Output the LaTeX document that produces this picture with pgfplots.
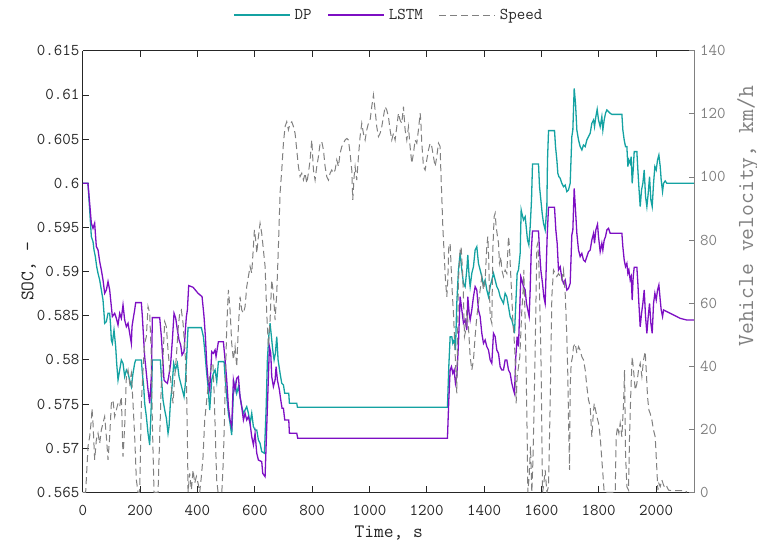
\documentclass[border=0pt]{standalone}
\usepackage{fontspec}
\usepackage{pgfplots}
\pgfplotsset{compat=1.18}

\definecolor{dpcol}{RGB}{20,162,162}
\definecolor{lstmcol}{RGB}{125,15,195}
\definecolor{spdcol}{RGB}{128,128,128}
\definecolor{axcol}{RGB}{38,38,38}

\newcommand{\tickfont}{\ttfamily\fontsize{16.5}{19}\selectfont}
\newcommand{\labfont}{\ttfamily\fontsize{19}{22}\selectfont}
\newcommand{\rlabfont}{\ttfamily\fontsize{23}{26}\selectfont}

\pgfplotsset{
  base/.style={
    scale only axis, width=611.9pt, height=441.5pt,
    xmin=0, xmax=2135,
    tick align=inside, major tick length=6pt,
    every tick/.style={line width=0.8pt},
    axis line style={line width=0.8pt},
    tick label style={font=\tickfont},
    label style={font=\labfont},
  },
}

\begin{document}
\begin{tikzpicture}
\useasboundingbox (-82.8pt,-53.7pt) rectangle (674.2pt,492.3pt);

% State of charge (left axis)
\begin{axis}[base,
  ymin=0.565, ymax=0.615,
  axis x line*=box, axis y line*=left,
  x axis line style={draw=axcol}, y axis line style={draw=axcol},
  xtick style={draw=axcol}, ytick style={draw=axcol},
  tick label style={text=axcol},
  xtick={0,200,400,600,800,1000,1200,1400,1600,1800,2000},
  xticklabels={0,200,400,600,800,1000,1200,1400,1600,1800,2000},
  xticklabel style={anchor=center, yshift=-17.7pt},
  ytick={0.565,0.570,0.575,0.580,0.585,0.590,0.595,0.600,0.605,0.610,0.615},
  yticklabels={0.565,0.57,0.575,0.58,0.585,0.59,0.595,0.6,0.605,0.61,0.615},
  xlabel={Time, s},
  xlabel style={at={(axis description cs:0.5,-0.0922)}, anchor=center, text=axcol},
  ylabel={SOC, -},
  ylabel style={at={(axis description cs:-0.0883,0.5)}, anchor=center, text=axcol},
  legend columns=3,
  legend style={at={(axis description cs:0.5,1.081)}, anchor=center,
    draw=none, fill=none, font=\tickfont, text=axcol,
    /tikz/every odd column/.append style={column sep=2pt},
    /tikz/every even column/.append style={column sep=14pt}},
  legend image code/.code={\draw[#1] (0pt,0pt) -- (56pt,0pt);},
]
\addplot[dpcol, line width=1.3pt] coordinates {
(0,0.6000)(18,0.6000)(24.0,0.59698)(29.8,0.59396)(35.6,0.59339)(39.1,0.59245)(43.8,0.59169)(48.4,0.59056)(53.1,0.58980)(58.9,0.58905)(64.7,0.58792)(70.5,0.58678)(74.0,0.58527)(76.3,0.58414)(82.2,0.58433)(88.0,0.58527)(93.8,0.58527)(97.3,0.58376)(99.6,0.58225)(103.1,0.58187)(108.9,0.58338)(114.7,0.58150)(118.2,0.57961)(122.9,0.57772)(128.7,0.57885)(134.5,0.57999)(140.3,0.57961)(146.1,0.57810)(152.0,0.57885)(157.8,0.57848)(163.6,0.57772)(169.4,0.57697)(175.2,0.57848)(181.0,0.57961)(184.5,0.57999)(204.3,0.57999)(207.8,0.57848)(212.5,0.57697)(215.9,0.57508)(221.8,0.57357)(227.6,0.57168)(233.4,0.57036)(239.2,0.57508)(242.7,0.57999)(270.6,0.57999)(274.1,0.57810)(279.9,0.57545)(285.8,0.57432)(291.6,0.57338)(297.4,0.57168)(300.9,0.57243)(305.5,0.57508)(311.4,0.57697)(317.2,0.57961)(323.0,0.57885)(330.0,0.57961)(335.8,0.57810)(341.6,0.57734)(347.4,0.57659)(353.2,0.57583)(357.9,0.57734)(361.4,0.57961)(367.2,0.58365)(413.7,0.58365)(420.7,0.58263)(425.4,0.58112)(431.2,0.57885)(437.0,0.57697)(442.8,0.57432)(449.8,0.57772)(455.6,0.57848)(461.5,0.57885)(467.3,0.57753)(473.1,0.57980)(492.9,0.57980)(496.4,0.57810)(502.2,0.57583)(508.0,0.57395)(513.8,0.57281)(519.6,0.57149)(525.4,0.57621)(531.3,0.57734)(537.1,0.57621)(542.9,0.57697)(548.7,0.57583)(554.5,0.57470)(560.4,0.57395)(566.2,0.57432)(572.0,0.57470)(577.8,0.57395)(583.6,0.57281)(589.4,0.57395)(595.3,0.57244)(601.1,0.57206)(606.9,0.57206)(612.7,0.57093)(618.5,0.57055)(624.3,0.56961)(633.7,0.56942)(639.5,0.57432)(644.1,0.57999)(648.8,0.58263)(653.4,0.58414)(658.1,0.58263)(662.7,0.58112)(667.4,0.57999)(672.0,0.58074)(676.7,0.58263)(681.4,0.57999)(688.3,0.57848)(694.2,0.57734)(700.0,0.57716)(704.6,0.57621)(718.6,0.57621)(720.9,0.57508)(746.5,0.57508)(748.8,0.57463)(1272.3,0.57463)(1277.0,0.57922)(1281.7,0.58262)(1287.5,0.58262)(1291.0,0.58187)(1295.6,0.58224)(1300.3,0.58111)(1304.9,0.58640)(1310.7,0.59018)(1316.6,0.59207)(1322.4,0.59018)(1328.2,0.58867)(1334.0,0.58829)(1339.8,0.59018)(1343.3,0.59188)(1348.0,0.58942)(1351.5,0.58829)(1357.3,0.58980)(1363.1,0.59056)(1368.9,0.59244)(1374.7,0.59282)(1380.5,0.59093)(1386.4,0.59018)(1392.2,0.58942)(1398.0,0.58848)(1403.8,0.58905)(1409.6,0.58791)(1415.5,0.58716)(1421.3,0.58829)(1427.1,0.58905)(1432.9,0.58980)(1438.7,0.58905)(1444.5,0.58829)(1450.4,0.58791)(1456.2,0.58716)(1462.0,0.58678)(1467.8,0.58640)(1473.6,0.58754)(1479.4,0.58716)(1485.3,0.58603)(1491.1,0.58489)(1496.9,0.58452)(1502.7,0.58376)(1506.2,0.58301)(1510.9,0.58640)(1515.5,0.58980)(1520.2,0.59018)(1526.0,0.59207)(1529.5,0.59697)(1531.9,0.59660)(1537.7,0.59584)(1543.5,0.59622)(1547.0,0.59509)(1551.6,0.59358)(1556.3,0.59301)(1561.0,0.59509)(1565.6,0.59811)(1569.1,0.60218)(1590.0,0.60218)(1593.5,0.59962)(1598.2,0.59811)(1602.8,0.59660)(1607.5,0.59546)(1613.3,0.59471)(1619.1,0.59735)(1621.4,0.60264)(1625.0,0.60596)(1645.9,0.60596)(1649.4,0.60415)(1654.0,0.60264)(1657.5,0.60113)(1661.0,0.60075)(1665.6,0.60056)(1671.4,0.59999)(1677.2,0.59961)(1683.1,0.59980)(1688.9,0.59905)(1694.7,0.59924)(1700.5,0.59999)(1706.3,0.60528)(1709.8,0.60603)(1714.5,0.61075)(1719.1,0.60905)(1723.8,0.60603)(1729.6,0.60490)(1735.4,0.60415)(1741.2,0.60377)(1747.0,0.60433)(1752.9,0.60415)(1758.7,0.60490)(1764.5,0.60528)(1770.3,0.60566)(1776.1,0.60679)(1782.0,0.60717)(1785.4,0.60641)(1790.1,0.60754)(1794.7,0.60837)(1799.4,0.60717)(1805.2,0.60641)(1811.0,0.60754)(1814.5,0.60603)(1819.2,0.60717)(1823.8,0.60792)(1828.5,0.60830)(1834.3,0.60811)(1840.1,0.60792)(1846.0,0.60780)(1880.9,0.60780)(1884.3,0.60603)(1889.0,0.60490)(1893.6,0.60415)(1898.3,0.60415)(1901.8,0.60188)(1905.3,0.60264)(1909.9,0.60226)(1913.4,0.60301)(1916.9,0.59999)(1920.4,0.60150)(1923.9,0.60358)(1933.2,0.60358)(1936.7,0.60150)(1940.2,0.59961)(1944.8,0.59735)(1949.5,0.59924)(1954.1,0.59999)(1958.8,0.60150)(1963.5,0.59848)(1968.1,0.59735)(1972.8,0.59886)(1977.4,0.60074)(1982.1,0.59811)(1986.7,0.59735)(1991.4,0.59999)(1996.0,0.60188)(2000.7,0.60150)(2005.3,0.60264)(2010.0,0.60320)(2014.7,0.60188)(2018.1,0.60037)(2022.8,0.59905)(2026.3,0.59999)(2032.1,0.60026)(2037.9,0.59999)(2135,0.59999)
};
\addlegendentry{DP}
\addplot[lstmcol, line width=1.3pt] coordinates {
(0,0.6000)(18,0.6000)(24.0,0.59773)(29.8,0.59547)(35.6,0.59490)(41.4,0.59547)(47.2,0.59283)(53.1,0.59245)(58.9,0.59113)(64.7,0.59018)(70.5,0.58905)(76.3,0.58754)(82.2,0.58792)(88.0,0.58886)(93.8,0.58792)(99.6,0.58603)(103.1,0.58490)(111.2,0.58527)(117.0,0.58471)(122.9,0.58395)(128.7,0.58527)(134.5,0.58471)(140.3,0.58622)(146.1,0.58452)(152.0,0.58376)(157.8,0.58414)(163.6,0.58301)(169.4,0.58187)(171.7,0.58376)(175.2,0.58452)(181.0,0.58565)(184.5,0.58648)(204.3,0.58648)(207.8,0.58490)(212.5,0.58225)(215.9,0.58036)(221.8,0.57848)(227.6,0.57659)(233.4,0.57508)(239.2,0.57810)(242.7,0.58478)(268.3,0.58478)(274.1,0.58263)(279.9,0.57961)(283.4,0.57772)(288.1,0.57753)(295.1,0.57734)(299.7,0.57810)(306.7,0.57961)(312.5,0.58225)(318.3,0.58527)(324.2,0.58471)(330.0,0.58339)(335.8,0.58225)(341.6,0.58168)(346.3,0.58055)(353.2,0.58093)(357.9,0.58339)(361.4,0.58490)(364.9,0.58565)(369.5,0.58841)(384.7,0.58822)(402.1,0.58754)(416.1,0.58716)(423.0,0.58490)(427.7,0.58263)(432.4,0.57961)(437.0,0.57772)(442.8,0.57659)(448.6,0.57999)(449.8,0.58093)(455.6,0.58074)(461.5,0.58112)(464.9,0.58036)(473.1,0.58206)(490.5,0.58206)(496.4,0.57999)(502.2,0.57772)(508.0,0.57470)(513.8,0.57319)(519.6,0.57244)(525.4,0.57772)(531.3,0.57659)(537.1,0.57791)(542.9,0.57810)(548.7,0.57583)(554.5,0.57470)(560.4,0.57319)(566.2,0.57395)(572.0,0.57319)(577.8,0.57357)(583.6,0.57281)(589.4,0.57130)(595.3,0.57036)(601.1,0.57168)(606.9,0.56942)(612.7,0.56866)(624.3,0.56847)(627.8,0.56715)(636.0,0.56677)(641.8,0.57244)(647.6,0.57810)(651.1,0.58150)(655.8,0.58074)(659.2,0.57810)(665.1,0.57697)(670.9,0.57772)(674.4,0.57923)(679.0,0.57772)(686.0,0.57659)(690.7,0.57546)(695.3,0.57451)(700.0,0.57451)(704.6,0.57319)(718.6,0.57319)(720.9,0.57168)(746.5,0.57168)(750.0,0.57112)(1272.3,0.57112)(1277.0,0.57545)(1281.7,0.57885)(1286.3,0.57923)(1291.0,0.57848)(1295.6,0.57885)(1300.3,0.57734)(1304.9,0.57810)(1310.7,0.58187)(1316.6,0.58716)(1322.4,0.58565)(1328.2,0.58414)(1334.0,0.58452)(1339.8,0.58338)(1343.3,0.58716)(1348.0,0.58527)(1351.5,0.58452)(1357.3,0.58565)(1363.1,0.58716)(1368.9,0.58829)(1374.7,0.58791)(1380.5,0.58565)(1386.4,0.58489)(1392.2,0.58301)(1398.0,0.58187)(1403.8,0.58225)(1409.6,0.58150)(1415.5,0.58112)(1421.3,0.57999)(1427.1,0.57961)(1432.9,0.58301)(1438.7,0.58263)(1444.5,0.58112)(1450.4,0.58074)(1456.2,0.57923)(1462.0,0.57885)(1467.8,0.57885)(1473.6,0.57999)(1479.4,0.57999)(1485.3,0.57885)(1491.1,0.57848)(1496.9,0.57734)(1502.7,0.57659)(1506.2,0.57621)(1510.9,0.58036)(1515.5,0.58263)(1520.2,0.58150)(1523.6,0.58489)(1528.3,0.58942)(1531.8,0.58905)(1537.6,0.58829)(1543.4,0.58791)(1548.1,0.58640)(1552.7,0.58565)(1557.4,0.58489)(1560.9,0.58791)(1564.4,0.59207)(1569.0,0.59460)(1590.0,0.59460)(1593.5,0.59244)(1598.1,0.59018)(1603.9,0.58867)(1608.6,0.58716)(1613.2,0.58640)(1616.7,0.59018)(1620.2,0.59395)(1624.9,0.59728)(1645.8,0.59728)(1650.5,0.59471)(1655.1,0.59320)(1659.8,0.59018)(1665.6,0.59055)(1671.4,0.58923)(1677.2,0.58866)(1683.1,0.58904)(1688.9,0.58791)(1694.7,0.58810)(1700.5,0.58866)(1706.3,0.59414)(1709.8,0.59470)(1714.5,0.59942)(1719.1,0.59697)(1723.8,0.59433)(1729.6,0.59244)(1735.4,0.59169)(1741.2,0.59206)(1747.0,0.59131)(1752.9,0.59112)(1758.7,0.59169)(1764.5,0.59225)(1770.3,0.59244)(1776.1,0.59357)(1782.0,0.59433)(1785.4,0.59320)(1790.1,0.59471)(1795.9,0.59535)(1799.4,0.59395)(1805.2,0.59225)(1811.0,0.59320)(1814.5,0.59244)(1819.2,0.59357)(1823.8,0.59395)(1828.5,0.59471)(1834.3,0.59489)(1840.1,0.59433)(1880.9,0.59433)(1884.3,0.59282)(1889.0,0.59131)(1893.6,0.59055)(1898.3,0.59093)(1901.8,0.58980)(1905.3,0.59018)(1909.9,0.58904)(1913.4,0.58942)(1916.9,0.58678)(1920.4,0.58942)(1923.9,0.59048)(1933.2,0.59048)(1936.7,0.58866)(1940.2,0.58640)(1944.8,0.58375)(1949.5,0.58526)(1954.1,0.58640)(1958.8,0.58791)(1963.5,0.58489)(1968.1,0.58300)(1972.8,0.58489)(1977.4,0.58640)(1982.1,0.58413)(1986.7,0.58300)(1991.4,0.58640)(1996.0,0.58753)(2000.7,0.58678)(2005.3,0.58791)(2010.0,0.58848)(2014.7,0.58678)(2018.1,0.58565)(2022.8,0.58489)(2026.3,0.58565)(2037.9,0.58546)(2061.2,0.58508)(2084.5,0.58470)(2107.7,0.58451)(2135,0.58451)
};
\addlegendentry{LSTM}
\addlegendimage{spdcol, line width=1pt, dash pattern=on 7pt off 4pt}
\addlegendentry{Speed}
\end{axis}

% Vehicle speed (right axis)
\begin{axis}[base,
  ymin=0, ymax=140,
  axis y line*=right, axis x line=none,
  y axis line style={draw=spdcol}, ytick style={draw=spdcol},
  ytick={0,20,40,60,80,100,120,140},
  yticklabels={0,20,40,60,80,100,120,140},
  yticklabel style={text=spdcol, xshift=2pt},
  ylabel={Vehicle velocity, km/h},
  ylabel style={at={(axis description cs:1.0866,0.625)}, anchor=center, text=spdcol, font=\rlabfont},
]
\addplot[spdcol, line width=1pt, dash pattern=on 7pt off 4pt] coordinates {
(0,0)(10,0)(18.2,14.5)(24.0,17.7)(29.8,22.9)(32.1,26.6)(35.6,21.9)(41.4,10.3)(47.2,16.6)(53.1,18.7)(58.9,15.5)(64.7,19.8)(70.5,21.9)(76.3,24.0)(82.2,17.7)(88.0,10.3)(93.8,17.7)(99.6,28.2)(105.4,29.3)(111.2,24.0)(117.0,26.1)(122.9,28.2)(128.7,27.2)(134.5,30.3)(140.3,11.3)(146.1,20.8)(152.0,36.7)(157.8,38.8)(163.6,34.6)(169.4,37.7)(175.2,28.2)(181.0,17.7)(186.9,3.9)(192.7,0)(198.5,0)(204.3,28.2)(210.1,38.8)(215.9,47.2)(221.8,49.4)(227.6,58.9)(233.4,56.8)(239.2,43.0)(242.7,21.9)(248.5,0)(262.5,0)(268.3,17.7)(274.1,34.6)(279.9,43.0)(285.8,54.1)(291.6,52.5)(297.4,45.1)(303.2,38.8)(309.0,33.5)(314.8,28.2)(320.7,36.7)(326.5,43.0)(332.3,51.5)(338.1,56.8)(343.9,57.8)(349.8,53.6)(355.6,46.2)(361.4,36.7)(364.9,17.7)(367.2,0)(373.0,6.0)(378.8,0.7)(384.7,7.1)(390.5,2.9)(396.3,5.0)(402.1,2.9)(407.9,0)(413.7,5.0)(419.6,11.3)(425.4,22.9)(431.2,28.2)(437.0,33.5)(442.8,36.7)(448.6,39.8)(454.0,41.0)(458.0,32.0)(462.0,20.0)(467.0,4.0)(472.0,0)(485.0,0)(490.5,10.3)(496.4,31.4)(502.2,52.5)(508.0,64.2)(513.8,57.8)(519.6,47.2)(525.4,42.0)(531.3,46.2)(537.1,39.8)(542.9,52.5)(548.7,62.0)(554.5,57.8)(560.4,56.8)(566.2,58.9)(572.0,65.2)(577.8,68.4)(583.6,71.6)(589.4,69.5)(595.3,77.9)(598.7,83.2)(604.6,79.0)(606.9,75.8)(612.7,81.1)(618.5,85.3)(624.3,82.1)(630.2,76.8)(636.0,71.6)(641.8,56.8)(647.6,46.2)(653.4,54.6)(659.2,67.3)(665.1,63.1)(670.9,54.6)(676.7,63.1)(682.5,77.9)(688.3,94.8)(694.2,102.2)(700.0,110.7)(705.8,116.0)(711.6,117.5)(717.4,114.9)(723.2,117.0)(729.1,117.5)(734.9,116.0)(740.7,113.8)(746.5,108.6)(752.3,103.3)(758.1,100.1)(764.0,101.2)(769.8,99.0)(775.6,101.2)(781.4,98.0)(787.2,101.2)(793.1,105.4)(798.9,111.7)(804.7,102.2)(810.5,99.0)(816.3,103.3)(822.1,106.4)(828.0,110.7)(833.8,111.2)(839.6,108.6)(845.4,103.3)(851.2,100.1)(857.0,99.0)(862.9,101.2)(868.7,102.2)(874.5,101.2)(880.3,102.2)(886.1,105.4)(892.0,103.3)(897.8,107.5)(903.5,109.6)(909.3,110.6)(915.2,111.7)(921.0,112.2)(926.8,111.7)(932.6,107.5)(938.4,102.2)(941.9,92.7)(946.6,100.1)(950.1,103.3)(955.9,99.0)(961.7,106.4)(967.5,112.8)(973.3,117.0)(979.1,113.8)(985.0,111.7)(990.8,114.9)(996.6,117.0)(1002.4,118.0)(1008.2,122.3)(1014.1,126.0)(1019.9,121.2)(1025.7,115.9)(1031.5,112.8)(1037.3,113.8)(1043.1,115.9)(1049.0,119.1)(1054.8,122.3)(1060.6,121.2)(1066.4,119.1)(1072.2,114.9)(1078.0,111.7)(1083.9,113.8)(1089.7,111.7)(1095.5,115.9)(1101.3,120.2)(1107.1,118.0)(1113.0,117.0)(1118.8,122.3)(1124.6,114.9)(1130.4,111.7)(1136.2,115.9)(1142.0,109.6)(1147.9,104.3)(1153.7,107.5)(1159.5,111.7)(1165.3,110.7)(1171.1,114.9)(1177.0,120.2)(1179.3,118.0)(1182.8,110.7)(1188.6,103.3)(1194.4,102.2)(1200.2,105.4)(1206.0,108.5)(1211.9,110.7)(1217.7,109.6)(1223.5,106.4)(1229.3,103.3)(1235.1,106.4)(1240.9,110.7)(1246.8,109.6)(1249.1,102.2)(1252.6,93.7)(1256.1,84.2)(1260.7,75.8)(1265.4,67.3)(1270.0,62.0)(1273.5,67.3)(1277.0,77.9)(1281.7,78.9)(1285.1,71.6)(1289.8,62.0)(1293.3,56.7)(1299.1,44.0)(1304.9,31.4)(1310.7,67.3)(1316.6,76.8)(1320.0,77.9)(1324.7,70.5)(1328.2,62.0)(1331.7,49.4)(1336.3,51.5)(1339.8,57.8)(1345.6,52.5)(1351.5,43.0)(1357.3,38.8)(1363.1,42.0)(1368.9,49.4)(1374.7,55.7)(1380.5,59.9)(1386.4,64.2)(1392.2,68.4)(1398.0,64.2)(1403.8,67.3)(1409.6,77.9)(1413.1,81.1)(1415.5,75.8)(1421.3,55.7)(1427.1,53.6)(1430.6,76.8)(1435.2,87.4)(1438.7,88.5)(1442.2,84.2)(1446.9,81.1)(1450.4,79.0)(1453.8,72.6)(1458.5,74.7)(1462.0,70.5)(1467.8,68.4)(1473.6,70.5)(1479.4,69.4)(1485.3,81.1)(1488.7,77.9)(1492.2,70.5)(1496.9,62.0)(1500.4,54.6)(1503.9,50.4)(1508.5,43.0)(1512.0,28.2)(1515.5,36.7)(1520.2,39.8)(1524.8,43.0)(1528.3,50.4)(1531.8,57.8)(1535.3,62.0)(1538.8,70.5)(1543.4,54.6)(1546.9,38.8)(1550.4,17.7)(1552.7,0)(1557.4,5.0)(1562.1,14.5)(1566.7,0)(1570.2,9.2)(1574.9,28.2)(1579.5,51.5)(1584.2,77.9)(1587.6,79.0)(1591.1,72.6)(1594.6,59.9)(1599.3,38.8)(1603.9,0)(1607.4,1.8)(1613.2,7.1)(1619.1,0)(1624.9,1.8)(1630.7,28.2)(1636.5,62.0)(1642.3,70.5)(1648.2,69.4)(1654.0,68.4)(1659.8,69.4)(1665.6,68.4)(1671.4,67.3)(1677.2,70.5)(1683.1,63.1)(1688.9,49.4)(1692.4,36.7)(1694.7,22.9)(1698.2,7.1)(1700.5,33.5)(1704.0,40.9)(1708.6,43.0)(1712.1,46.2)(1718.0,47.2)(1723.8,44.1)(1729.6,46.2)(1735.4,45.1)(1741.2,43.0)(1747.0,42.0)(1752.9,38.8)(1758.7,33.5)(1764.5,29.3)(1770.3,27.2)(1776.1,17.6)(1779.6,22.9)(1784.3,28.2)(1789.0,26.1)(1793.6,24.0)(1799.4,21.9)(1805.2,17.6)(1811.0,10.2)(1814.5,6.0)(1819.2,0)(1857.6,0)(1861.1,17.6)(1865.7,20.8)(1870.4,18.7)(1875.0,21.9)(1880.9,17.6)(1886.7,28.2)(1890.2,38.8)(1893.6,12.3)(1898.3,1.8)(1904.1,0.7)(1907.6,17.6)(1912.3,32.4)(1916.9,43.0)(1921.6,38.8)(1927.4,32.4)(1933.2,34.5)(1939.0,38.8)(1944.8,40.9)(1950.7,36.7)(1956.5,42.0)(1962.3,44.6)(1965.8,38.8)(1970.4,30.3)(1975.1,26.1)(1979.7,25.0)(1985.6,22.9)(1991.4,19.7)(1997.2,17.6)(2003.0,7.1)(2006.5,0.7)(2010.0,2.8)(2014.7,1.8)(2020.5,3.9)(2026.3,2.3)(2032.1,1.2)(2037.9,1.8)(2043.7,0.7)(2055.4,0.5)(2072.9,0.5)(2101.9,0.5)(2107.7,0)
};
\end{axis}
\end{tikzpicture}
\end{document}
